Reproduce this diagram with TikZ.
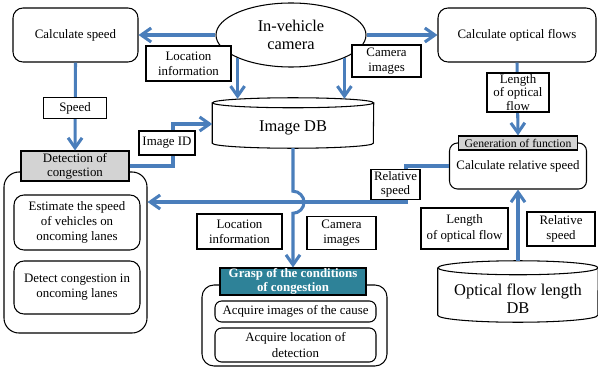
\documentclass[tikz,border=0pt]{standalone}
\usepackage{fontspec}
\setmainfont{Liberation Serif}
\usepackage{tikz}
\usetikzlibrary{shapes.geometric,arrows.meta,positioning}
\definecolor{flowblue}{RGB}{74,126,187}
\definecolor{graspteal}{RGB}{46,130,152}
\definecolor{headgray}{RGB}{211,211,211}

% cylinder outline round a db node: name, x radius, y radius
\newcommand{\dbdraw}[3]{%
  \draw[line width=0.9pt] ([yshift=#3]#1.north west) -- ([yshift=#3]#1.south west)
    arc[start angle=180,end angle=360,x radius=#2,y radius=#3]
    -- ([yshift=#3]#1.north east);
  \draw[line width=0.9pt] ([yshift=#3]#1.north) ellipse[x radius=#2,y radius=#3];}

\begin{document}
\begin{tikzpicture}[x=0.03cm,y=-0.03cm,font=\fontsize{11}{13}\selectfont,
  rbox/.style={draw,line width=0.9pt,rounded corners=3mm,align=center,inner sep=1pt},
  lbl/.style={draw,line width=0.9pt,fill=white,align=center,inner sep=0pt},
  head/.style={draw,line width=0.9pt,align=center,inner sep=0pt},
  dbnode/.style={align=center,inner sep=0pt,font=\fontsize{14}{15}\selectfont},
  arr/.style={-{Straight Barb[length=3mm,width=4.2mm]},line width=2.6pt,flowblue}]
  \useasboundingbox (0,0) rectangle (598,369);
  % containers
  \node[rbox,rounded corners=4.5mm,minimum width=4.29cm,minimum height=4.83cm](detbox) at (75.5,252.5){};
  \node[rbox,rounded corners=3.6mm,minimum width=5.55cm,minimum height=2.43cm](graspbox) at (294.5,325.5){};
  \node[rbox,rounded corners=2.4mm,minimum width=4.11cm,minimum height=1.38cm](relbox) at (518,166){Calculate relative speed};
  % titles
  \node[head,fill=headgray,minimum width=3.24cm,minimum height=0.9cm,font=\fontsize{11}{12}\selectfont](dettitle) at (75,166){Detection of\\congestion};
  \node[head,fill=graspteal,text=white,minimum width=4.38cm,minimum height=0.81cm,font=\bfseries\fontsize{11}{11.5}\selectfont](grasptitle) at (293,281.5){Grasp of the conditions\\of congestion};
  \node[head,fill=headgray,minimum width=3.57cm,minimum height=0.42cm,font=\fontsize{10}{11}\selectfont](gentitle) at (518,143){Generation of function};
  % inner boxes
  \node[rbox,minimum width=3.78cm,minimum height=1.65cm](estimate) at (77,222.5){Estimate the speed\\of vehicles on\\oncoming lanes};
  \node[rbox,minimum width=3.78cm,minimum height=1.59cm](detect) at (77,287.5){Detect congestion in\\oncoming lanes};
  \node[rbox,rounded corners=2mm,minimum width=4.83cm,minimum height=0.63cm](acqimg) at (295.5,311.5){Acquire images of the cause};
  \node[rbox,rounded corners=2mm,minimum width=4.83cm,minimum height=1.02cm](acqloc) at (295.5,345){Acquire location of\\detection};
  % main nodes
  \node[rbox,minimum width=3.75cm,minimum height=1.62cm](speedcalc) at (75.5,35){Calculate speed};
  \node[draw,ellipse,line width=0.9pt,align=center,inner sep=0pt,minimum width=4.5cm,minimum height=1.92cm,
    font=\fontsize{14}{15}\selectfont](camera) at (291,35){In-vehicle\\camera};
  \node[rbox,minimum width=4.74cm,minimum height=1.62cm](flowcalc) at (517,35){Calculate optical flows};
  \node[dbnode,minimum width=4.83cm,minimum height=1.2cm](imagedb) at (293,128){Image DB};
  \dbdraw{imagedb}{2.415cm}{0.15cm}
  \node[dbnode,minimum width=4.8cm,minimum height=1.41cm](flowdb) at (518,298.5){Optical flow length\\DB};
  \dbdraw{flowdb}{2.4cm}{0.21cm}
  \coordinate(dbtop) at ([yshift=0.27cm]imagedb.north);
  \coordinate(flowtop) at ([yshift=0.42cm]flowdb.north);
  \coordinate(idturn) at (173,124);
  \coordinate(relturn) at (406,202);
  % connectors
  \draw[arr](camera.west)--(speedcalc.east);
  \draw[arr](camera.east)--(flowcalc.west);
  \draw[arr](camera.south west)--(camera.south west|-dbtop);
  \draw[arr](camera.south east)--(camera.south east|-dbtop);
  \draw[arr](speedcalc.south)--(dettitle.north);
  \draw[arr](dettitle.east)-|(idturn)--(idturn-|imagedb.west);
  \draw[arr](flowcalc.south)--(gentitle.north);
  \draw[arr](flowtop)--(relbox.south);
  \draw[arr](relbox.west)-|(relturn)--(relturn-|detbox.east);
  \draw[arr](imagedb.south)--++(0,43) arc[start angle=90,end angle=-90,radius=0.33cm]--(grasptitle.north);
  % labels
  \node[lbl,minimum width=1.89cm,minimum height=0.63cm](speedlbl) at (75,108){Speed};
  \node[lbl,minimum width=2.55cm,minimum height=1.05cm](loclbl) at (188.5,63.5){Location\\information};
  \node[lbl,minimum width=2.07cm,minimum height=0.96cm](camlbl) at (386.5,61){Camera\\images};
  \node[lbl,minimum width=1.68cm,minimum height=0.72cm](idlbl) at (167,143){Image ID};
  \node[lbl,minimum width=1.86cm,minimum height=1.17cm,font=\fontsize{11}{11.5}\selectfont](lenlbl) at (518,92.5){Length\\of optical\\flow};
  \node[lbl,minimum width=1.47cm,minimum height=0.9cm,font=\fontsize{11}{12}\selectfont](rellbl) at (395.5,184.5){Relative\\speed};
  \node[lbl,minimum width=2.55cm,minimum height=1.05cm](loclbl2) at (239.5,231.5){Location\\information};
  \node[lbl,minimum width=2.07cm,minimum height=0.99cm](camlbl2) at (341.5,233){Camera\\images};
  \node[lbl,minimum width=2.61cm,minimum height=1.23cm](lenlbl2) at (464.5,228.5){Length\\of optical flow};
  \node[lbl,minimum width=2.04cm,minimum height=1.02cm](rellbl2) at (561,229){Relative\\speed};
\end{tikzpicture}
\end{document}
